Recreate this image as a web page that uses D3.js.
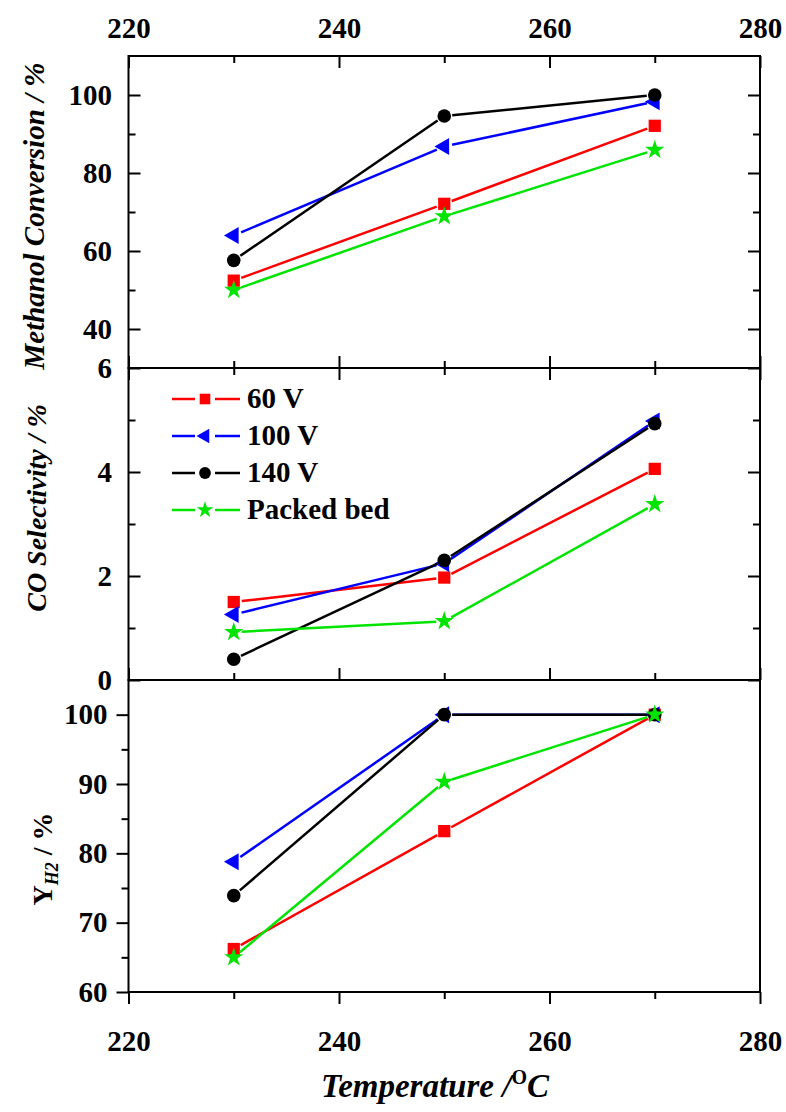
<!DOCTYPE html>
<html>
<head>
<meta charset="utf-8">
<script src="https://cdn.jsdelivr.net/npm/d3@7"></script>
<style>
  body { margin: 0; background: #fff; }
  svg { display: block; }
</style>
</head>
<body>
<div id="host"></div>
<script>
const WIDTH = 786;
const HEIGHT = 1112;
const FONT = '"Liberation Serif", "Times New Roman", serif';

// data
const TEMPS = [230, 250, 270];
const SERIES = ["60 V", "100 V", "140 V", "Packed bed"];

const conversion60 = [52.4, 72.1, 92.1];
const conversion100 = [64.0, 86.8, 98.3];
const conversion140 = [57.6, 94.6, 100.0];
const conversionPacked = [50.0, 68.9, 85.9];

const selectivity60 = [1.5, 1.97, 4.06];
const selectivity100 = [1.26, 2.24, 4.98];
const selectivity140 = [0.4, 2.3, 4.93];
const selectivityPacked = [0.92, 1.13, 3.38];

const yield60 = [66.2, 83.2, 100.0];
const yield100 = [78.8, 100.0, 100.0];
const yield140 = [73.9, 100.0, 100.0];
const yieldPacked = [65.0, 90.3, 100.0];

const X_MAJOR = [220, 240, 260, 280];
const X_MINOR = [230, 250, 270];

const COLORS = ["#ff0000", "#0000ff", "#000000", "#00e400"];
const SYMBOLS = [d3.symbolSquare, d3.symbolTriangle, d3.symbolCircle, d3.symbolStar];
const SIZES = [150, 125, 145, 115];
const ROTATE = [0, -90, 0, 0];

const LEFT = 128.5;
const RIGHT = 760;
const PANEL_H = 312;
const TOPS = [56, 368, 680];
const MAJOR = 12;
const MINOR = 7;
const GAP = 8;

const x = d3.scaleLinear().domain([220, 280]).range([LEFT, RIGHT]);

const panels = [
  {
    domain: [30, 110],
    major: [40, 60, 80, 100],
    minor: [50, 70, 90],
    values: [conversion60, conversion100, conversion140, conversionPacked],
    outward: false,
  },
  {
    domain: [0, 6],
    major: [0, 2, 4, 6],
    minor: [1, 3, 5],
    values: [selectivity60, selectivity100, selectivity140, selectivityPacked],
    outward: false,
  },
  {
    domain: [60, 105],
    major: [60, 70, 80, 90, 100],
    minor: [65, 75, 85, 95],
    values: [yield60, yield100, yield140, yieldPacked],
    outward: true,
  },
];

const svg = d3
  .select("#host")
  .append("svg")
  .attr("width", WIDTH)
  .attr("height", HEIGHT)
  .style("font-family", FONT)
  .style("font-weight", "bold");

function styleAxis(g) {
  g.attr("font-family", null).attr("font-size", null);
  g.select(".domain").remove();
  g.selectAll(".tick line").attr("stroke", "#000").attr("stroke-width", 2);
  g.selectAll(".tick text")
    .attr("fill", "#000")
    .style("font-size", "29px")
    .style("font-family", FONT)
    .style("font-weight", "bold");
}

function marker(g, i, cx, cy) {
  g.append("path")
    .attr("d", d3.symbol().type(SYMBOLS[i]).size(SIZES[i])())
    .attr("transform", `translate(${cx},${cy}) rotate(${ROTATE[i]})`)
    .attr("fill", COLORS[i]);
}

// Origin style: the line stops a little short of each symbol
function segment(g, i, x1, y1, x2, y2) {
  const dx = x2 - x1;
  const dy = y2 - y1;
  const len = Math.sqrt(dx * dx + dy * dy);
  if (len <= 2 * GAP) return;
  const ux = dx / len;
  const uy = dy / len;
  g.append("line")
    .attr("x1", x1 + ux * GAP)
    .attr("y1", y1 + uy * GAP)
    .attr("x2", x2 - ux * GAP)
    .attr("y2", y2 - uy * GAP)
    .attr("stroke", COLORS[i])
    .attr("stroke-width", 2.5);
}

panels.forEach((p, k) => {
  const top = TOPS[k];
  const bottom = top + PANEL_H;
  const y = d3.scaleLinear().domain(p.domain).range([bottom, top]);
  const g = svg.append("g");
  const dir = p.outward ? 1 : -1;

  // left axis with labels
  g.append("g")
    .attr("transform", `translate(${LEFT},0)`)
    .call(
      d3.axisLeft(y).tickValues(p.major).tickSize(dir * MAJOR)
        .tickPadding(p.outward ? 9 : 16.5).tickFormat(d3.format("d"))
    )
    .call(styleAxis);
  g.append("g")
    .attr("transform", `translate(${LEFT},0)`)
    .call(d3.axisLeft(y).tickValues(p.minor).tickSize(dir * MINOR).tickFormat(""))
    .call(styleAxis);

  if (!p.outward) {
    // right ticks inward
    g.append("g")
      .attr("transform", `translate(${RIGHT},0)`)
      .call(d3.axisRight(y).tickValues(p.major).tickSize(-MAJOR).tickFormat(""))
      .call(styleAxis);
    g.append("g")
      .attr("transform", `translate(${RIGHT},0)`)
      .call(d3.axisRight(y).tickValues(p.minor).tickSize(-MINOR).tickFormat(""))
      .call(styleAxis);
    // top ticks inward
    g.append("g")
      .attr("transform", `translate(0,${top})`)
      .call(
        d3.axisTop(x).tickValues(X_MAJOR).tickSize(-MAJOR).tickPadding(18)
          .tickFormat(k === 0 ? d3.format("d") : "")
      )
      .call(styleAxis);
    g.append("g")
      .attr("transform", `translate(0,${top})`)
      .call(d3.axisTop(x).tickValues(X_MINOR).tickSize(-MINOR).tickFormat(""))
      .call(styleAxis);
    // bottom ticks inward
    g.append("g")
      .attr("transform", `translate(0,${bottom})`)
      .call(d3.axisBottom(x).tickValues(X_MAJOR).tickSize(-MAJOR).tickFormat(""))
      .call(styleAxis);
    g.append("g")
      .attr("transform", `translate(0,${bottom})`)
      .call(d3.axisBottom(x).tickValues(X_MINOR).tickSize(-MINOR).tickFormat(""))
      .call(styleAxis);
  } else {
    g.append("g")
      .attr("transform", `translate(0,${bottom})`)
      .call(
        d3.axisBottom(x).tickValues(X_MAJOR).tickSize(MAJOR).tickPadding(26)
          .tickFormat(d3.format("d"))
      )
      .call(styleAxis);
    g.append("g")
      .attr("transform", `translate(0,${bottom})`)
      .call(d3.axisBottom(x).tickValues(X_MINOR).tickSize(MINOR).tickFormat(""))
      .call(styleAxis);
  }

  // frame
  g.append("rect")
    .attr("x", LEFT)
    .attr("y", top)
    .attr("width", RIGHT - LEFT)
    .attr("height", PANEL_H)
    .attr("fill", "none")
    .attr("stroke", "#000")
    .attr("stroke-width", 2);

  // series
  p.values.forEach((vals, i) => {
    const sg = g.append("g");
    for (let j = 0; j < vals.length - 1; j++) {
      segment(sg, i, x(TEMPS[j]), y(vals[j]), x(TEMPS[j + 1]), y(vals[j + 1]));
    }
    vals.forEach((v, j) => marker(sg, i, x(TEMPS[j]), y(v)));
  });
});

// legend in middle panel
const legend = svg.append("g");
const LEG_ROWS = [399, 436, 473, 510];
SERIES.forEach((name, i) => {
  const cy = LEG_ROWS[i];
  legend.append("line").attr("x1", 172).attr("x2", 195).attr("y1", cy).attr("y2", cy)
    .attr("stroke", COLORS[i]).attr("stroke-width", 2.5);
  legend.append("line").attr("x1", 215).attr("x2", 240).attr("y1", cy).attr("y2", cy)
    .attr("stroke", COLORS[i]).attr("stroke-width", 2.5);
  legend.append("path")
    .attr("d", d3.symbol().type(SYMBOLS[i]).size(SIZES[i] * 0.75)())
    .attr("transform", `translate(205,${cy}) rotate(${ROTATE[i]})`)
    .attr("fill", COLORS[i]);
  legend.append("text")
    .attr("x", 247)
    .attr("y", cy + 9)
    .style("font-size", "29px")
    .text(name);
});

// axis titles
svg.append("text")
  .attr("transform", "translate(44,216) rotate(-90)")
  .attr("text-anchor", "middle")
  .style("font-size", "29px")
  .style("font-style", "italic")
  .text("Methanol Conversion / %");

svg.append("text")
  .attr("transform", "translate(46,508) rotate(-90)")
  .attr("text-anchor", "middle")
  .style("font-size", "28px")
  .style("font-style", "italic")
  .text("CO Selectivity / %");

const yh = svg.append("text")
  .attr("transform", "translate(52,859) rotate(-90)")
  .attr("text-anchor", "middle")
  .style("font-size", "28px");
yh.append("tspan").text("Y");
yh.append("tspan").style("font-size", "18px").style("font-style", "italic").attr("dy", 6).text("H2");
yh.append("tspan").attr("dy", -6).text(" / %");

const tt = svg.append("text")
  .attr("x", 435)
  .attr("y", 1097)
  .attr("text-anchor", "middle")
  .style("font-size", "33px")
  .style("font-style", "italic");
tt.append("tspan").text("Temperature /");
tt.append("tspan").style("font-size", "20px").style("font-style", "normal").attr("dy", -13).text("O");
tt.append("tspan").attr("dy", 13).text("C");
</script>
</body>
</html>
